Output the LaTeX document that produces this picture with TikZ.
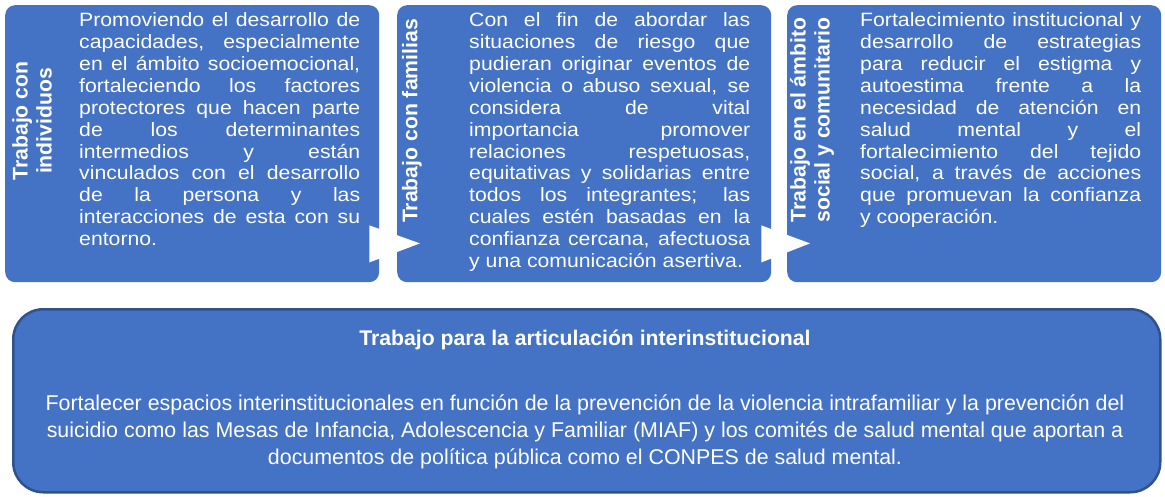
\documentclass[tikz,border=0pt]{standalone}
\usepackage{fontspec}
\setmainfont{Liberation Sans}
\newfontfamily\anchafont[FakeStretch=1.1]{Liberation Sans}
\usetikzlibrary{calc}
\definecolor{azul}{RGB}{68,114,196}
\definecolor{azulosc}{RGB}{47,82,143}

\begin{document}
\begin{tikzpicture}[x=1pt, y=-1pt,
    caja/.style={fill=azul, rounded corners=10pt, anchor=north west,
                 minimum width=374pt, minimum height=277pt, inner sep=0pt},
    etiq/.style={rotate=90, align=center, text=white, inner sep=0pt,
                 font=\fontsize{21.2}{24}\selectfont\bfseries},
    texto/.style={anchor=north west, text width=281pt, align=justify,
                  text=white, inner sep=0pt,
                  font=\anchafont\fontsize{19.3}{21.9}\selectfont},
    flecha/.style={fill=white},
  ]
  \useasboundingbox (0,0) rectangle (1165,497);
  % cajas superiores
  \node[caja] (ind) at (5,5) {};
  \node[caja] (fam) at (397,5) {};
  \node[caja] (soc) at (787,5) {};
  % flechas
  \fill[flecha] ($(ind.south east)+(-10,-57)$) -- ($(fam.south west)+(23,-39)$)
                -- ($(ind.south east)+(-10,-20)$) -- cycle;
  \fill[flecha] ($(fam.south east)+(-10,-57)$) -- ($(soc.south west)+(23,-39)$)
                -- ($(fam.south east)+(-10,-20)$) -- cycle;
  % etiquetas
  \node[etiq] (tind) at (32,121) {Trabajo con\\individuos};
  \node[etiq] (tfam) at (412,121) {Trabajo con familias};
  \node[etiq] (tsoc) at (812,120) {Trabajo en el ámbito\\social y comunitario};
  % textos
  \node[texto] (xind) at (79,12.5) {Promoviendo el desarrollo de\linebreak
    capacidades, especialmente\linebreak en el ámbito socioemocional,\linebreak
    fortaleciendo los factores\linebreak protectores que hacen parte\linebreak
    de los determinantes\linebreak intermedios y están\linebreak
    vinculados con el desarrollo\linebreak de la persona y las\linebreak
    interacciones de esta con su\linebreak entorno.};
  \node[texto] (xfam) at (469,12.5) {Con el fin de abordar las\linebreak
    situaciones de riesgo que\linebreak pudieran originar eventos de\linebreak
    violencia o abuso sexual, se\linebreak considera de vital\linebreak
    importancia promover\linebreak relaciones respetuosas,\linebreak
    equitativas y solidarias entre\linebreak todos los integrantes; las\linebreak
    cuales estén basadas en la\linebreak confianza cercana, afectuosa\linebreak
    y una comunicación asertiva.};
  \node[texto] (xsoc) at (860,12.5) {Fortalecimiento institucional y\linebreak
    desarrollo de estrategias\linebreak para reducir el estigma y\linebreak
    autoestima frente a la\linebreak necesidad de atención en\linebreak
    salud mental y el\linebreak fortalecimiento del tejido\linebreak
    social, a través de acciones\linebreak que promuevan la confianza\linebreak
    y cooperación.};
  % caja inferior
  \node[fill=azul, draw=azulosc, line width=2.5pt, rounded corners=30pt,
        anchor=north west, minimum width=1147pt, minimum height=183pt] (art) at (12,308) {};
  \node[text=white, font=\fontsize{21.2}{24}\selectfont\bfseries] (tart) at (585,340)
    {Trabajo para la articulación interinstitucional};
  \node[text=white, align=center, font=\fontsize{21.4}{26.8}\selectfont] (xart) at (585,432)
    {Fortalecer espacios interinstitucionales en función de la prevención de la violencia intrafamiliar y la prevención del\\
     suicidio como las Mesas de Infancia, Adolescencia y Familiar (MIAF) y los comités de salud mental que aportan a\\
     documentos de política pública como el CONPES de salud mental.};
\end{tikzpicture}
\end{document}
